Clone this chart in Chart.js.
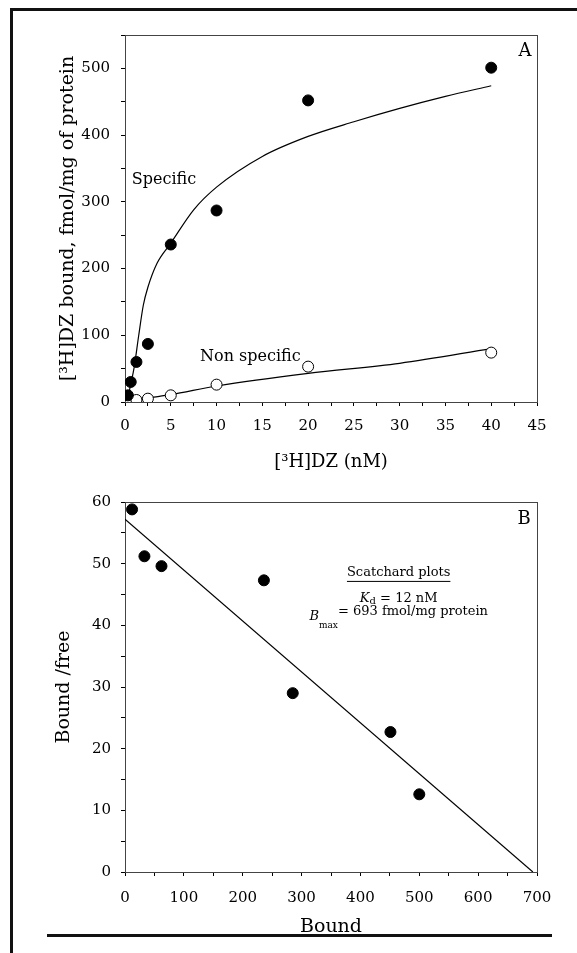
<!DOCTYPE html>
<html lang="en">
<head>
  <meta charset="UTF-8" />
  <title>[3H]DZ binding - saturation and Scatchard</title>
  <script src="https://cdn.jsdelivr.net/npm/chart.js"></script>
  <style>
    body { margin: 0; background: #fff; }
    #page { position: relative; width: 577px; height: 953px; overflow: hidden; background: #fff; }
    .frameTop { position: absolute; left: 10px; top: 8px; width: 567px; height: 3px; background: #111; }
    .frameLeft { position: absolute; left: 10px; top: 8px; width: 3px; height: 945px; background: #111; }
    .rule { position: absolute; left: 47px; top: 934px; width: 505px; height: 3px; background: #111; }
    #chartA { position: absolute; left: 0; top: 0; }
    #chartB { position: absolute; left: 0; top: 480px; }
  </style>
</head>
<body>
<div id="page">
  <canvas id="chartA" width="577" height="480"></canvas>
  <canvas id="chartB" width="577" height="473"></canvas>
  <div class="frameTop"></div>
  <div class="frameLeft"></div>
  <div class="rule"></div>
</div>

<script>
  // ---- panel A: saturation data ----
  const conc = [0.3125, 0.625, 1.25, 2.5, 5, 10, 20, 40];
  const specificBound = [10, 30, 60, 87, 236, 287, 452, 501];
  const nonSpecificBound = [0, 1, 3, 5, 10, 26, 53, 74];

  // fitted curves
  const specCurveX = [0.3, 0.6, 1, 1.5, 2, 2.5, 3.5, 5, 7.5, 10, 15, 20, 25, 30, 35, 40];
  const specCurveY = [5, 25, 52, 100, 145, 172, 208, 238, 288, 322, 368, 398, 420, 440, 458, 474];
  const nonSpecLineX = [0.3, 2.5, 5, 10, 20, 30, 40];
  const nonSpecLineY = [1, 6, 11, 24, 43, 58, 80];

  // ---- panel B: Scatchard ----
  const scatBound = [12, 33, 62, 236, 285, 451, 500];
  const scatBoundFree = [58.8, 51.2, 49.6, 47.3, 29, 22.7, 12.6];
  const fitBound = [0, 693];
  const fitBoundFree = [57.2, 0];

  const xRangeA = [0, 45], yRangeA = [0, 550];
  const xRangeB = [0, 700], yRangeB = [0, 60];

  const serif = '"DejaVu Serif", "Liberation Serif", serif';

  function pts(xs, ys) {
    return xs.map((x, i) => ({ x: x, y: ys[i] }));
  }

  function makeAxis(range, step, labelEvery, tickPad, titleText, titleSize, titlePad, fitSize, isY) {
    return {
      type: 'linear',
      min: range[0],
      max: range[1],
      grid: { display: true, drawOnChartArea: false, drawTicks: true, tickLength: 4, color: '#000', lineWidth: 1 },
      border: { display: true, color: '#000', width: 1 },
      ticks: {
        stepSize: step,
        autoSkip: false,
        maxRotation: 0,
        padding: tickPad,
        color: '#000',
        font: { family: serif, size: 15 },
        callback: v => (Math.abs(v % labelEvery) < 1e-9 ? String(v) : '')
      },
      title: {
        display: true,
        text: titleText,
        color: '#000',
        font: { family: serif, size: titleSize },
        padding: titlePad
      },
      afterFit: s => { if (isY) s.width = fitSize; else s.height = fitSize; }
    };
  }

  const boxPlugin = {
    id: 'plotBox',
    beforeDatasetsDraw(chart) {
      const a = chart.chartArea, ctx = chart.ctx;
      ctx.save();
      ctx.strokeStyle = '#444';
      ctx.lineWidth = 1;
      ctx.strokeRect(a.left + 0.5, a.top + 0.5, a.right - a.left, a.bottom - a.top);
      ctx.restore();
    }
  };

  // draws a centred line of mixed-style text runs
  function drawRuns(ctx, runs, cx, cy) {
    let total = 0;
    runs.forEach(r => { ctx.font = r.font; total += ctx.measureText(r.t).width; });
    let x = cx - total / 2;
    runs.forEach(r => {
      ctx.font = r.font;
      ctx.fillText(r.t, x, cy + (r.dy || 0));
      x += ctx.measureText(r.t).width;
    });
  }

  const notesA = {
    id: 'notesA',
    afterDraw(chart) {
      const ctx = chart.ctx, xs = chart.scales.x, ys = chart.scales.y;
      ctx.save();
      ctx.fillStyle = '#000';
      ctx.textBaseline = 'middle';
      ctx.textAlign = 'left';
      ctx.font = '16px ' + serif;
      ctx.fillText('Specific', xs.getPixelForValue(0.75), ys.getPixelForValue(333));
      ctx.fillText('Non specific', xs.getPixelForValue(8.2), ys.getPixelForValue(68));
      ctx.textAlign = 'center';
      ctx.font = '18px ' + serif;
      ctx.fillText('A', xs.getPixelForValue(43.7), ys.getPixelForValue(526));
      ctx.restore();
    }
  };

  const notesB = {
    id: 'notesB',
    afterDraw(chart) {
      const ctx = chart.ctx, xs = chart.scales.x, ys = chart.scales.y;
      ctx.save();
      ctx.fillStyle = '#000';
      ctx.strokeStyle = '#000';
      ctx.textBaseline = 'middle';
      ctx.textAlign = 'center';
      ctx.font = '18px ' + serif;
      ctx.fillText('B', xs.getPixelForValue(678), ys.getPixelForValue(57.2));

      const cx = xs.getPixelForValue(465);
      const y1 = ys.getPixelForValue(48.5);
      ctx.font = '13px ' + serif;
      ctx.fillText('Scatchard plots', cx, y1);
      const w = ctx.measureText('Scatchard plots').width;
      ctx.lineWidth = 1;
      ctx.beginPath();
      ctx.moveTo(cx - w / 2, y1 + 8.5);
      ctx.lineTo(cx + w / 2, y1 + 8.5);
      ctx.stroke();

      ctx.textAlign = 'left';
      drawRuns(ctx, [
        { t: 'K', font: 'italic 13px ' + serif },
        { t: 'd', font: '10px ' + serif, dy: 3 },
        { t: ' = 12 nM', font: '13px ' + serif }
      ], cx, ys.getPixelForValue(44.4));
      drawRuns(ctx, [
        { t: 'B', font: 'italic 13px ' + serif, dy: 5 },
        { t: 'max', font: '9px ' + serif, dy: 14 },
        { t: '= 693 fmol/mg protein', font: '13px ' + serif }
      ], cx, ys.getPixelForValue(42.2));
      ctx.restore();
    }
  };

  const pointStyleFilled = { pointRadius: 5.5, pointBackgroundColor: '#000', pointBorderColor: '#000', pointBorderWidth: 1, showLine: false };
  const pointStyleOpen = { pointRadius: 5.5, pointBackgroundColor: '#fff', pointBorderColor: '#000', pointBorderWidth: 1, showLine: false };
  const lineStyle = { showLine: true, pointRadius: 0, borderColor: '#000', borderWidth: 1.2, fill: false };

  const commonOpts = {
    responsive: false,
    animation: false,
    plugins: { legend: { display: false }, tooltip: { enabled: false } }
  };

  new Chart(document.getElementById('chartA'), {
    type: 'scatter',
    data: {
      datasets: [
        Object.assign({ data: pts(conc, specificBound), order: 0 }, pointStyleFilled),
        Object.assign({ data: pts(conc, nonSpecificBound), order: 0 }, pointStyleOpen),
        Object.assign({ data: pts(specCurveX, specCurveY), order: 2, cubicInterpolationMode: 'monotone' }, lineStyle),
        Object.assign({ data: pts(nonSpecLineX, nonSpecLineY), order: 2, cubicInterpolationMode: 'monotone' }, lineStyle)
      ]
    },
    options: Object.assign({}, commonOpts, {
      layout: { padding: { top: 35, right: 40, left: 0, bottom: 0 } },
      scales: {
        x: makeAxis(xRangeA, 2.5, 5, 11, '[³H]DZ (nM)', 18, { top: 0, bottom: 7 }, 78, false),
        y: makeAxis(yRangeA, 50, 100, 11, '[³H]DZ bound, fmol/mg of protein', 19, { top: 57, bottom: 0 }, 125, true)
      }
    }),
    plugins: [boxPlugin, notesA]
  });

  new Chart(document.getElementById('chartB'), {
    type: 'scatter',
    data: {
      datasets: [
        Object.assign({ data: pts(scatBound, scatBoundFree), order: 0 }, pointStyleFilled),
        Object.assign({ data: pts(fitBound, fitBoundFree), order: 2 }, lineStyle)
      ]
    },
    options: Object.assign({}, commonOpts, {
      layout: { padding: { top: 22, right: 40, left: 0, bottom: 0 } },
      scales: {
        x: makeAxis(xRangeB, 50, 100, 13, 'Bound', 19, { top: 0, bottom: 15 }, 81, false),
        y: makeAxis(yRangeB, 5, 10, 10, 'Bound /free', 19, { top: 53, bottom: 0 }, 125, true)
      }
    }),
    plugins: [boxPlugin, notesB]
  });
</script>
</body>
</html>
